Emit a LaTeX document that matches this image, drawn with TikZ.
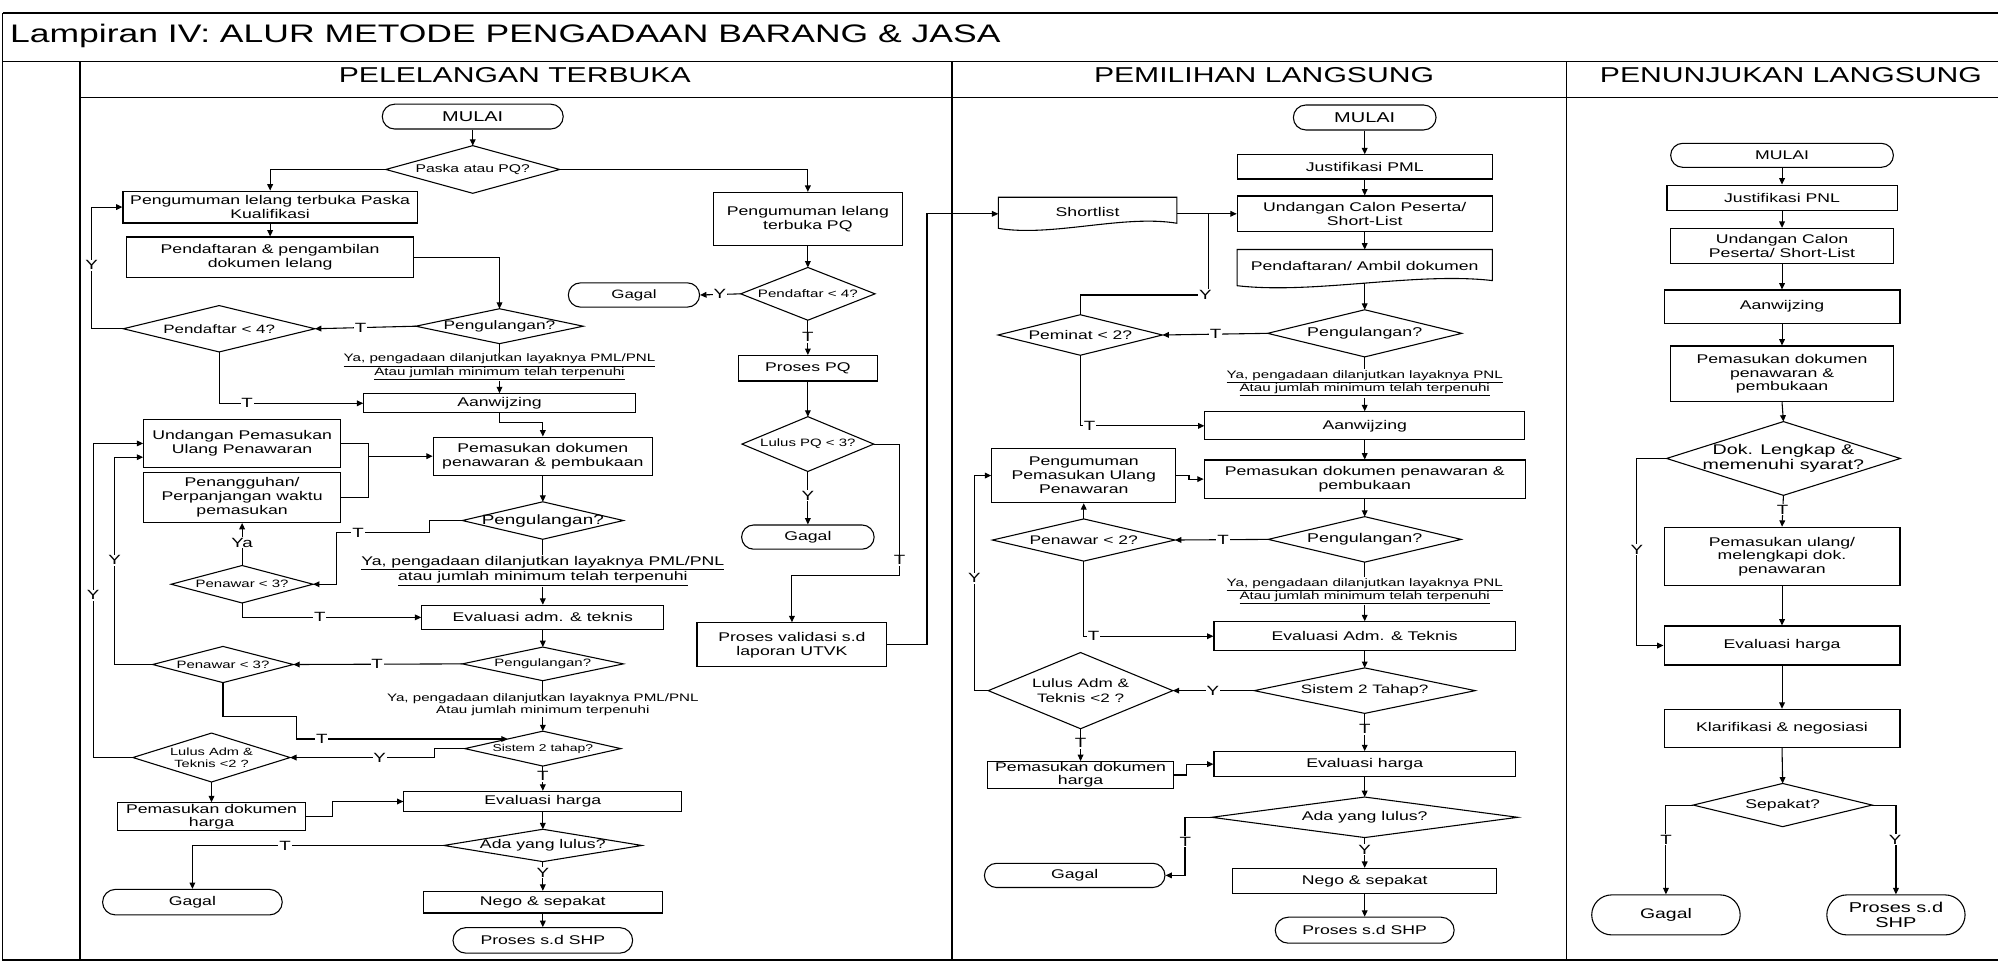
\documentclass[tikz,border=0pt]{standalone}
\usepackage{fontspec}
\setmainfont{Liberation Sans}[FakeStretch=1.4]
\usetikzlibrary{shapes.misc,arrows.meta,calc}
\newcommand\myfs[2]{\fontsize{#1pt}{#2pt}\selectfont}
\tikzset{
  basic/.style={inner sep=0pt, align=center, font=\myfs{9.9}{10.8}},
  box/.style={basic, draw, line width=0.85pt, rectangle},
  term/.style={basic, draw, line width=0.85pt, rounded rectangle},
  dec/.style={basic},
  doc/.style={basic},
  note/.style={basic, fill=white, inner sep=1pt, font=\myfs{8.5}{10.5}},
  lab/.style={fill=white, inner sep=0.7pt, font=\myfs{10.5}{11}},
  flow/.style={line width=0.85pt, -{Triangle[length=5pt,width=4.5pt]}},
  plain/.style={line width=0.85pt},
  frame/.style={line width=1.2pt},
}
\begin{document}
\begin{tikzpicture}[x=1pt,y=-1pt]
\useasboundingbox (0,0) rectangle (1568,754);
\fill[white] (0,0) rectangle (1568,754);
% ---------- frame ----------
\draw[frame] (2,10.4) -- (1568,10.4);
\draw[frame] (2,10.4) -- (2,753.4) -- (1568,753.4);
\draw[frame] (2,48.4) -- (1568,48.4);
\draw[frame] (62.8,76.4) -- (1568,76.4);
\draw[frame] (62.8,48.4) -- (62.8,753.4);
\draw[frame] (747.1,48.4) -- (747.1,753.4);
\draw[frame] (1229.5,48.4) -- (1229.5,753.4);
\node[anchor=base west, inner sep=0pt, font=\myfs{19.9}{22}] (ttl) at (7.8,33) {Lampiran IV: ALUR METODE PENGADAAN BARANG \& JASA};
\node[anchor=base, inner sep=0pt, font=\myfs{16.9}{18}] (h1) at (404,65) {PELELANGAN TERBUKA};
\node[anchor=base, inner sep=0pt, font=\myfs{16.9}{18}] (h2) at (992,65) {PEMILIHAN LANGSUNG};
\node[anchor=base, inner sep=0pt, font=\myfs{16.9}{18}] (h3) at (1405.5,65) {PENUNJUKAN LANGSUNG};

% ---------- column 1 ----------
\node[term, minimum width=142pt, minimum height=19.5pt, font=\myfs{11.2}{12}] (c1mulai) at (371,91.5) {MULAI};
\node[dec, minimum width=136pt, minimum height=37pt, font=\myfs{8.8}{10}] (c1d1) at (371,133) {Paska atau PQ?};
\node[box, minimum width=231pt, minimum height=25pt, font=\myfs{9.9}{10.5}] (c1peng) at (212,162.5) {Pengumuman lelang terbuka Paska\\Kualifikasi};
\node[box, minimum width=225pt, minimum height=32pt, font=\myfs{9.9}{11}] (c1daftar) at (212,202) {Pendaftaran \& pengambilan\\dokumen lelang};
\node[dec, minimum width=131pt, minimum height=27pt, font=\myfs{9.7}{10}] (c1d2) at (392,256) {Pengulangan?};
\node[dec, minimum width=150pt, minimum height=36pt, font=\myfs{9.5}{10}] (c1d3) at (172,258) {Pendaftar < 4?};
\node[box, minimum width=213pt, minimum height=15pt] (c1aan) at (392,316.5) {Aanwijzing};
\node[box, minimum width=172pt, minimum height=30pt, font=\myfs{9.9}{11}] (c1pemas) at (426,358) {Pemasukan dokumen\\penawaran \& pembukaan};
\node[box, minimum width=154.5pt, minimum height=38pt, font=\myfs{9.9}{10.6}] (c1und) at (190,348) {Undangan Pemasukan\\Ulang Penawaran};
\node[box, minimum width=154.5pt, minimum height=39pt, font=\myfs{9.9}{11}] (c1tang) at (190,390.5) {Penangguhan/\\Perpanjangan waktu\\pemasukan};
\node[dec, minimum width=126pt, minimum height=29pt, font=\myfs{10.6}{11}] (c1d4) at (426,408.5) {Pengulangan?};
\node[dec, minimum width=111pt, minimum height=29pt, font=\myfs{8.4}{10}] (c1d5) at (190,458.5) {Penawar < 3?};
\node[box, minimum width=190pt, minimum height=19pt] (c1eval) at (426,484.5) {Evaluasi adm. \& teknis};
\node[dec, minimum width=126pt, minimum height=26pt, font=\myfs{8.4}{10}] (c1d6) at (426,521) {Pengulangan?};
\node[dec, minimum width=110pt, minimum height=28pt, font=\myfs{8.4}{10}] (c1d7) at (175,521.5) {Penawar < 3?};
\node[dec, minimum width=122pt, minimum height=27pt, font=\myfs{7.8}{9}] (c1d8) at (426,587.5) {Sistem 2 tahap?};
\node[dec, minimum width=123pt, minimum height=38pt, font=\myfs{8.2}{9.5}] (c1d9) at (166,594.5) {Lulus Adm \&\\Teknis <2 ?};
\node[box, minimum width=147pt, minimum height=22pt, font=\myfs{9.9}{10}] (c1harga) at (166,641) {Pemasukan dokumen\\harga};
\node[box, minimum width=218pt, minimum height=16pt] (c1evh) at (426,629) {Evaluasi harga};
\node[dec, minimum width=155pt, minimum height=25pt] (c1d10) at (426,663.5) {Ada yang lulus?};
\node[term, minimum width=141pt, minimum height=20pt] (c1gagal) at (151,708) {Gagal};
\node[box, minimum width=188pt, minimum height=17pt] (c1nego) at (426,708) {Nego \& sepakat};
\node[term, minimum width=141pt, minimum height=20pt] (c1shp) at (426,738) {Proses s.d SHP};
% PQ branch
\node[box, minimum width=148pt, minimum height=42pt, font=\myfs{9.9}{11}] (c1pq) at (634,172) {Pengumuman lelang\\terbuka PQ};
\node[dec, minimum width=105pt, minimum height=41pt, font=\myfs{8.5}{10}] (c1d11) at (634,230.6) {Pendaftar < 4?};
\node[term, minimum width=103pt, minimum height=19pt, font=\myfs{9.5}{10}] (c1gagal2) at (497.5,231.5) {Gagal};
\node[box, minimum width=109pt, minimum height=20pt] (c1ppq) at (634,289) {Proses PQ};
\node[dec, minimum width=103pt, minimum height=42.6pt, font=\myfs{8.4}{10}] (c1d12) at (634,348.5) {Lulus PQ < 3?};
\node[term, minimum width=104pt, minimum height=19pt] (c1gagal3) at (634,421.5) {Gagal};
\node[box, minimum width=149pt, minimum height=34.5pt, font=\myfs{9.9}{11}] (c1valid) at (621.5,506) {Proses validasi s.d\\laporan UTVK};

% ---------- column 2 ----------
\node[term, minimum width=112pt, minimum height=19.6pt, font=\myfs{11.2}{12}] (mmulai) at (1071,92.2) {MULAI};
\node[box, minimum width=200pt, minimum height=19pt] (mjust) at (1071,131) {Justifikasi PML};
\node[doc, minimum width=139.7pt, minimum height=22pt] (mshort) at (853.5,166) {Shortlist};
\node[box, minimum width=200pt, minimum height=28pt, font=\myfs{9.9}{11.2}] (mund) at (1071,167.8) {Undangan Calon Peserta/\\Short-List};
\node[doc, minimum width=200pt, minimum height=26pt] (mdaftar) at (1071,209) {Pendaftaran/ Ambil dokumen};
\node[dec, minimum width=152pt, minimum height=36.6pt, font=\myfs{10}{11}] (mdc) at (1071,261.6) {Pengulangan?};
\node[dec, minimum width=128.6pt, minimum height=31.4pt, font=\myfs{9.8}{10}] (mpeminat) at (847.8,262.9) {Peminat < 2?};
\node[box, minimum width=250.8pt, minimum height=22pt] (maan) at (1071,334.2) {Aanwijzing};
\node[box, minimum width=252pt, minimum height=30pt, font=\myfs{9.9}{11}] (mpemas) at (1071,376) {Pemasukan dokumen penawaran \&\\pembukaan};
\node[box, minimum width=144.4pt, minimum height=42.6pt, font=\myfs{9.9}{11.1}] (mpeng) at (850.5,373.2) {Pengumuman\\Pemasukan Ulang\\Penawaran};
\node[dec, minimum width=151pt, minimum height=35.3pt, font=\myfs{10}{11}] (md2) at (1071,423.3) {Pengulangan?};
\node[dec, minimum width=142.8pt, minimum height=32.7pt, font=\myfs{9.8}{10}] (mpenawar) at (850.5,423.8) {Penawar < 2?};
\node[box, minimum width=236.6pt, minimum height=22.7pt] (meval) at (1071,499.3) {Evaluasi Adm. \& Teknis};
\node[dec, minimum width=173pt, minimum height=35.3pt, font=\myfs{9.6}{10}] (msistem) at (1071,542) {Sistem 2 Tahap?};
\node[dec, minimum width=144.4pt, minimum height=59.4pt, font=\myfs{9.6}{11.5}] (mlulus) at (848,542) {Lulus Adm \&\\Teknis <2 ?};
\node[box, minimum width=146pt, minimum height=21pt, font=\myfs{9.9}{10.2}] (mharga) at (848,608.2) {Pemasukan dokumen\\harga};
\node[box, minimum width=236.6pt, minimum height=19.6pt] (mevh) at (1071,599.7) {Evaluasi harga};
\node[dec, minimum width=239.7pt, minimum height=31.4pt] (mada) at (1071,641.4) {Ada yang lulus?};
\node[term, minimum width=141.7pt, minimum height=19pt] (mgagal) at (843.4,687) {Gagal};
\node[box, minimum width=207.4pt, minimum height=19.6pt] (mnego) at (1071,691.3) {Nego \& sepakat};
\node[term, minimum width=140.4pt, minimum height=20.4pt] (mshp) at (1071,730) {Proses s.d SHP};
\coordinate (mjoin) at (948.7,167.8);

% ---------- column 3 ----------
\begin{scope}[every node/.append style={font=\myfs{11.2}{13.1}}]
\node[term, minimum width=174.8pt, minimum height=18.8pt] (rmulai) at (1398.5,121.9) {MULAI};
\node[box, minimum width=180.5pt, minimum height=20.1pt] (rjust) at (1398.5,155.3) {Justifikasi PNL};
\node[box, minimum width=174.8pt, minimum height=27.5pt] (rund) at (1398.5,193) {Undangan Calon\\Peserta/ Short-List};
\node[box, minimum width=185.2pt, minimum height=26.2pt] (raan) at (1398.5,240.7) {Aanwijzing};
\node[box, minimum width=174.8pt, minimum height=43.7pt] (rpemas) at (1398.5,293.4) {Pemasukan dokumen\\penawaran \&\\pembukaan};
\node[dec, minimum width=183pt, minimum height=57.5pt, font=\myfs{11}{12}] (rdok) at (1399.6,359.8) {Dok. Lengkap \&\\memenuhi syarat?};
\node[box, minimum width=185.2pt, minimum height=46pt] (rulang) at (1398.5,436.8) {Pemasukan ulang/\\melengkapi dok.\\penawaran};
\node[box, minimum width=185.2pt, minimum height=30.6pt] (revh) at (1398.5,506.6) {Evaluasi harga};
\node[box, minimum width=185.2pt, minimum height=30.1pt] (rklar) at (1398.5,571.7) {Klarifikasi \& negosiasi};
\node[dec, minimum width=140pt, minimum height=33.5pt] (rsep) at (1399,631.8) {Sepakat?};
\node[term, minimum width=116.5pt, minimum height=31.4pt, font=\myfs{10.9}{12}] (rgagal) at (1307.4,718) {Gagal};
\node[term, minimum width=108.5pt, minimum height=31.4pt, font=\myfs{11.2}{12.5}] (rshp) at (1487.9,718) {Proses s.d\\SHP};
\end{scope}

% ---------- diamond and document outlines ----------
\foreach \n in {c1d1,c1d2,c1d3,c1d4,c1d5,c1d6,c1d7,c1d8,c1d9,c1d10,c1d11,c1d12,mdc,mpeminat,md2,mpenawar,msistem,mlulus,mada,rdok,rsep}
  \draw[plain] (\n.west) -- (\n.north) -- (\n.east) -- (\n.south) -- cycle;
\foreach \n in {mshort,mdaftar}
  \draw[plain] ($(\n.south west)+(0,2)$) -- (\n.north west) -- (\n.north east) -- ($(\n.south east)+(0,-2)$)
    .. controls ($(\n.south west)!0.7!(\n.south east)+(0,-9)$) and ($(\n.south west)!0.3!(\n.south east)+(0,9)$) .. ($(\n.south west)+(0,2)$) -- cycle;

% ---------- connectors column 1 ----------
\draw[flow] (c1mulai.south) -- (c1d1.north);
\draw[flow] (c1d1.west) -| (c1peng.north);
\draw[flow] (c1d1.east) -| (c1pq.north);
\draw[flow] (c1peng.south) -- (c1daftar.north);
\draw[flow] (c1daftar.east) -| (c1d2.north);
\draw[flow] (c1d2.west) -- (c1d3.east);
\draw[flow] (c1d3.west) -- ++(-25,0) |- (c1peng.west);
\draw[flow] (c1d3.south) |- (c1aan.west);
\draw[flow] (c1d2.south) -- (c1aan.north);
\draw[flow] (c1aan.south) -- ++(0,7) -| (c1pemas.north);
\coordinate (c1j) at (289,358);
\draw[plain] (c1und.east) -| (c1j);
\draw[plain] (c1tang.east) -| (c1j);
\draw[flow] (c1j) -- (c1pemas.west);
\draw[flow] (c1pemas.south) -- (c1d4.north);
\draw[flow] (c1d4.west) -- ++(-26,0) |- (264,418) |- (c1d5.east);
\draw[flow] (c1d5.north) -- (c1tang.south);
\draw[flow] (c1d5.south) |- (c1eval.west);
\draw[flow] (c1d4.south) -- (c1eval.north);
\draw[flow] (c1eval.south) -- (c1d6.north);
\draw[flow] (c1d6.west) -- (c1d7.east);
\draw[flow] (c1d7.west) -- ++(-30,0) |- ([yshift=-10.8pt]c1und.west);
\draw[flow] (c1d7.south) |- (233,562.5) |- ($(c1d8.north)!0.45!(c1d8.west)$);
\draw[flow] (c1d6.south) -- (c1d8.north);
\draw[flow] (c1d8.west) -- ++(-24,0) |- (c1d9.east);
\draw[flow] (c1d9.west) -- ++(-31,0) |- (c1und.west);
\draw[flow] (c1d9.south) -- (c1harga.north);
\draw[flow] (c1harga.east) -- ++(21,0) |- (c1evh.west);
\draw[flow] (c1d8.south) -- (c1evh.north);
\draw[flow] (c1evh.south) -- (c1d10.north);
\draw[flow] (c1d10.west) -| (c1gagal.north);
\draw[flow] (c1d10.south) -- (c1nego.north);
\draw[flow] (c1nego.south) -- (c1shp.north);
\draw[flow] (c1pq.south) -- (c1d11.north);
\draw[flow] (c1d11.west) -- (c1gagal2.east);
\draw[flow] (c1d11.south) -- (c1ppq.north);
\draw[flow] (c1ppq.south) -- (c1d12.north);
\draw[flow] (c1d12.south) -- (c1gagal3.north);
\draw[flow] (c1d12.east) -| (706,451.5) -| (c1valid.north);
\draw[flow] (c1valid.east) -| (727.5,167.8) -- (mshort.west |- mund.west);

% ---------- connectors column 2 ----------
\draw[flow] (mmulai.south) -- (mjust.north);
\draw[flow] (mjust.south) -- (mund.north);
\draw[flow] (mshort.east |- mund.west) -- (mund.west);
\draw[flow] (mund.south) -- (mdaftar.north);
\draw[flow] (mdaftar.south) -- (mdc.north);
\draw[flow] (mdc.west) -- (mpeminat.east);
\draw[plain] (mpeminat.north) |- (948.7,231.5) -- (mjoin);
\draw[flow] (mpeminat.south) |- (maan.west);
\draw[flow] (mdc.south) -- (maan.north);
\draw[flow] (maan.south) -- (mpemas.north);
\draw[flow] (mpeng.east) -- ++(10,0) |- (mpemas.west);
\draw[flow] (mpemas.south) -- (md2.north);
\draw[flow] (md2.west) -- (mpenawar.east);
\draw[flow] (mpenawar.north) -- (mpeng.south);
\draw[flow] (mpenawar.south) |- (meval.west);
\draw[flow] (md2.south) -- (meval.north);
\draw[flow] (meval.south) -- (msistem.north);
\draw[flow] (msistem.west) -- (mlulus.east);
\draw[flow] (mlulus.west) -- ++(-11,0) |- (mpeng.west);
\draw[flow] (mlulus.south) -- (mharga.north);
\draw[flow] (mharga.east) -- ++(9.5,0) |- (mevh.west);
\draw[flow] (msistem.south) -- (mevh.north);
\draw[flow] (mevh.south) -- (mada.north);
\draw[flow] (mada.west) -- ++(-21,0) |- (mgagal.east);
\draw[flow] (mada.south) -- (mnego.north);
\draw[flow] (mnego.south) -- (mshp.north);

% ---------- connectors column 3 ----------
\draw[flow] (rmulai.south) -- (rjust.north);
\draw[flow] (rjust.south) -- (rund.north);
\draw[flow] (rund.south) -- (raan.north);
\draw[flow] (raan.south) -- (rpemas.north);
\draw[flow] (rpemas.south) -- (rdok.north);
\draw[flow] (rdok.west) -- ++(-23.5,0) |- (revh.west);
\draw[flow] (rdok.south) -- (rulang.north);
\draw[flow] (rulang.south) -- (revh.north);
\draw[flow] (revh.south) -- (rklar.north);
\draw[flow] (rklar.south) -- (rsep.north);
\draw[flow] (rsep.west) -| (rgagal.north);
\draw[flow] (rsep.east) -| (rshp.north);

% ---------- notes ----------
\node[note] (c1n1) at (392,288) {\underline{Ya, pengadaan dilanjutkan layaknya PML/PNL}\\\underline{Atau jumlah minimum telah terpenuhi}};
\node[note, font=\myfs{9.9}{12}] (c1n2) at (426,448) {\underline{Ya, pengadaan dilanjutkan layaknya PML/PNL}\\\underline{atau jumlah minimum telah terpenuhi}};
\node[note, font=\myfs{8.5}{9.5}] (c1n3) at (426,553.3) {Ya, pengadaan dilanjutkan layaknya PML/PNL\\Atau jumlah minimum terpenuhi};
\node[note] (mn1) at (1071,300.8) {\underline{Ya, pengadaan dilanjutkan layaknya PNL}\\\underline{Atau jumlah minimum telah terpenuhi}};
\node[note, font=\myfs{8.5}{10}] (mn2) at (1071,464) {\underline{Ya, pengadaan dilanjutkan layaknya PNL}\\\underline{Atau jumlah minimum telah terpenuhi}};

% ---------- labels ----------
\node[lab] (l1) at (283,257.5) {T};
\node[lab] (l2) at (72,208) {Y};
\node[lab] (l3) at (194,316.5) {T};
\node[lab] (l4) at (281,418) {T};
\node[lab] (l5) at (190,426) {Ya};
\node[lab] (l6) at (251,484) {T};
\node[lab] (l7) at (296,521) {T};
\node[lab] (l8) at (90,439.5) {Y};
\node[lab] (l9) at (252.5,580) {T};
\node[lab] (l10) at (298,594.5) {Y};
\node[lab] (l11) at (73,467) {Y};
\node[lab] (l12) at (426,609) {T};
\node[lab] (l13) at (223.7,663.5) {T};
\node[lab] (l14) at (426,685) {Y};
\node[lab] (l15) at (565,230.6) {Y};
\node[lab] (l16) at (634,264.6) {T};
\node[lab] (l17) at (634,389) {Y};
\node[lab] (l18) at (706,439.5) {T};
\node[lab] (l19) at (954,262) {T};
\node[lab] (l20) at (946,231.5) {Y};
\node[lab] (l21) at (855,334.2) {T};
\node[lab] (l22) at (959.8,423.5) {T};
\node[lab] (l23) at (858.2,499.3) {T};
\node[lab] (l24) at (951.9,542) {Y};
\node[lab] (l25) at (764.6,453.9) {Y};
\node[lab] (l26) at (848,583.4) {T};
\node[lab] (l27) at (1071,572.4) {T};
\node[lab] (l28) at (930.2,660.5) {T};
\node[lab] (l29) at (1071,667) {Y};
\node[lab] (l30) at (1284.5,431.6) {Y};
\node[lab] (l31) at (1399,400.2) {T};
\node[lab] (l32) at (1307.5,659.2) {T};
\node[lab] (l33) at (1487.2,659.2) {Y};
\end{tikzpicture}
\end{document}
